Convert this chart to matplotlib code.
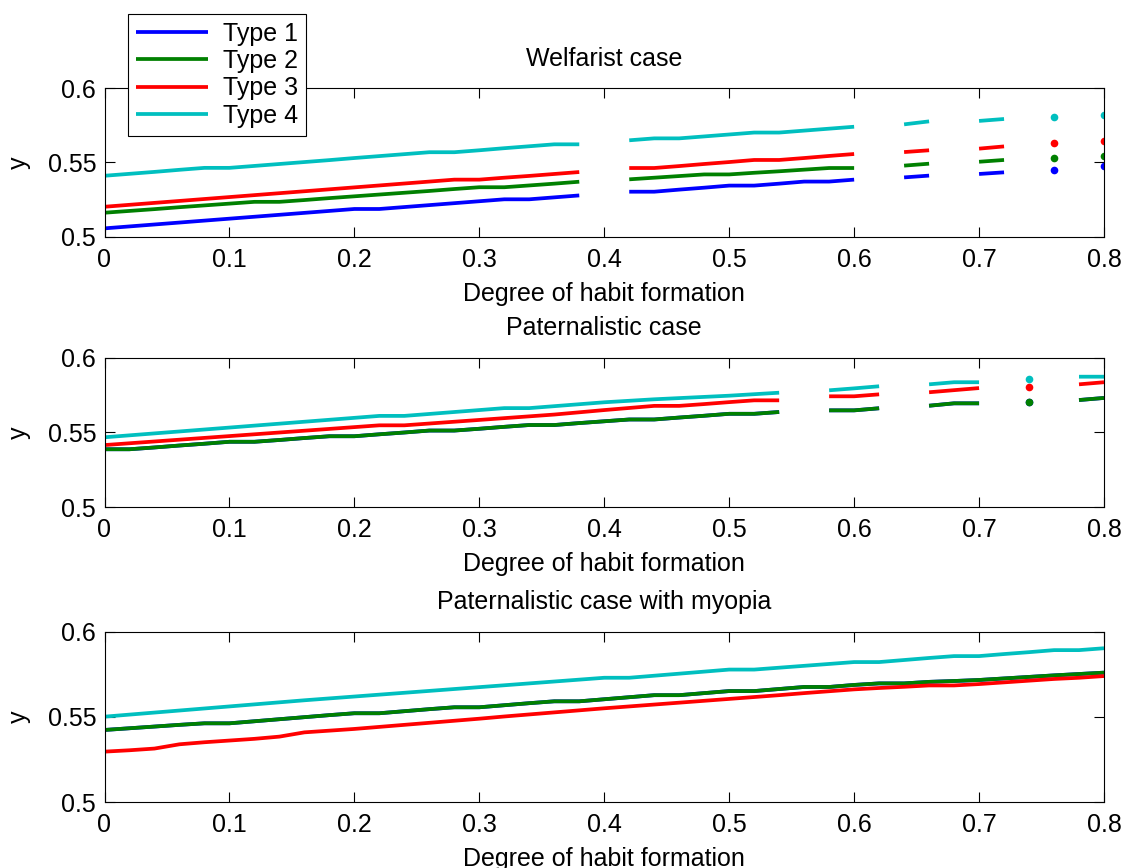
import numpy as np
import matplotlib
matplotlib.use("Agg")
import matplotlib.pyplot as plt

plt.rcParams['font.family'] = ['Liberation Sans', 'DejaVu Sans']
plt.rcParams['font.size'] = 18

nan = np.nan
habit = np.linspace(0, 0.8, 41)

# ---- welfarist case ----
welf_t1 = [0.5058, 0.5071, 0.5084, 0.5097, 0.5110, 0.5123, 0.5136, 0.5149, 0.5162, 0.5175,
           0.5188, 0.5188, 0.5201, 0.5214, 0.5227, 0.5240, 0.5253, 0.5253, 0.5266, 0.5279,
           nan, 0.5304, 0.5304, 0.5318, 0.5331, 0.5345, 0.5345, 0.5358, 0.5372, 0.5372,
           0.5385, nan, 0.5400, 0.5412, nan, 0.5423, 0.5434, nan, 0.5452, nan, 0.5477]
welf_t2 = [0.5163, 0.5175, 0.5187, 0.5200, 0.5212, 0.5224, 0.5236, 0.5236, 0.5248, 0.5261,
           0.5273, 0.5285, 0.5297, 0.5309, 0.5322, 0.5334, 0.5334, 0.5346, 0.5358, 0.5371,
           nan, 0.5387, 0.5398, 0.5409, 0.5420, 0.5420, 0.5431, 0.5441, 0.5452, 0.5463,
           0.5463, nan, 0.5479, 0.5492, nan, 0.5505, 0.5517, nan, 0.5530, nan, 0.5544]
welf_t3 = [0.5203, 0.5216, 0.5229, 0.5242, 0.5255, 0.5268, 0.5281, 0.5294, 0.5307, 0.5320,
           0.5333, 0.5346, 0.5359, 0.5372, 0.5385, 0.5385, 0.5398, 0.5410, 0.5423, 0.5436,
           nan, 0.5463, 0.5463, 0.5476, 0.5490, 0.5503, 0.5517, 0.5517, 0.5530, 0.5544,
           0.5557, nan, 0.5570, 0.5582, nan, 0.5593, 0.5608, nan, 0.5633, nan, 0.5647]
welf_t4 = [0.5411, 0.5424, 0.5437, 0.5451, 0.5464, 0.5464, 0.5477, 0.5490, 0.5503, 0.5516,
           0.5530, 0.5543, 0.5556, 0.5569, 0.5569, 0.5582, 0.5596, 0.5609, 0.5622, 0.5622,
           nan, 0.5649, 0.5662, 0.5662, 0.5675, 0.5688, 0.5701, 0.5701, 0.5714, 0.5727,
           0.5740, nan, 0.5756, 0.5776, nan, 0.5779, 0.5792, nan, 0.5805, nan, 0.5819]

# ---- paternalistic case (types 1 and 2 coincide) ----
pat_t2 = [0.5388, 0.5388, 0.5400, 0.5413, 0.5425, 0.5438, 0.5438, 0.5450, 0.5463, 0.5475,
          0.5475, 0.5488, 0.5500, 0.5513, 0.5513, 0.5525, 0.5538, 0.5550, 0.5550, 0.5563,
          0.5575, 0.5587, 0.5587, 0.5600, 0.5612, 0.5625, 0.5625, 0.5637, nan, 0.5648,
          0.5648, 0.5662, nan, 0.5679, 0.5695, 0.5695, nan, 0.5704, nan, 0.5717, 0.5731]
pat_t1 = list(pat_t2)
pat_t3 = [0.5416, 0.5428, 0.5440, 0.5452, 0.5464, 0.5476, 0.5488, 0.5500, 0.5512, 0.5524,
          0.5536, 0.5548, 0.5548, 0.5560, 0.5572, 0.5584, 0.5596, 0.5608, 0.5620, 0.5635,
          0.5650, 0.5664, 0.5678, 0.5678, 0.5690, 0.5703, 0.5715, 0.5715, nan, 0.5742,
          0.5742, 0.5755, nan, 0.5769, 0.5783, 0.5797, nan, 0.5806, nan, 0.5822, 0.5836]
pat_t4 = [0.5468, 0.5481, 0.5494, 0.5507, 0.5520, 0.5533, 0.5546, 0.5559, 0.5572, 0.5585,
          0.5598, 0.5611, 0.5611, 0.5624, 0.5637, 0.5650, 0.5663, 0.5663, 0.5676, 0.5689,
          0.5702, 0.5712, 0.5722, 0.5730, 0.5738, 0.5746, 0.5756, 0.5766, nan, 0.5782,
          0.5795, 0.5809, nan, 0.5822, 0.5836, 0.5836, nan, 0.5860, nan, 0.5873, 0.5873]

# ---- paternalistic case with myopia (types 1 and 2 coincide) ----
myo_t2 = [0.5424, 0.5434, 0.5444, 0.5454, 0.5463, 0.5463, 0.5475, 0.5487, 0.5499, 0.5511,
          0.5522, 0.5522, 0.5534, 0.5546, 0.5557, 0.5557, 0.5569, 0.5581, 0.5592, 0.5592,
          0.5604, 0.5616, 0.5628, 0.5628, 0.5640, 0.5652, 0.5652, 0.5664, 0.5676, 0.5676,
          0.5688, 0.5697, 0.5697, 0.5706, 0.5711, 0.5717, 0.5726, 0.5735, 0.5744, 0.5752, 0.5760]
myo_t1 = list(myo_t2)
myo_t3 = [0.5297, 0.5305, 0.5315, 0.5340, 0.5352, 0.5362, 0.5372, 0.5385, 0.5410, 0.5420,
          0.5430, 0.5442, 0.5454, 0.5466, 0.5478, 0.5490, 0.5503, 0.5515, 0.5527, 0.5539,
          0.5551, 0.5562, 0.5573, 0.5584, 0.5595, 0.5606, 0.5617, 0.5628, 0.5640, 0.5651,
          0.5662, 0.5670, 0.5677, 0.5685, 0.5685, 0.5693, 0.5703, 0.5713, 0.5723, 0.5730, 0.5740]
myo_t4 = [0.5502, 0.5514, 0.5526, 0.5538, 0.5550, 0.5562, 0.5574, 0.5586, 0.5598, 0.5609,
          0.5620, 0.5631, 0.5642, 0.5653, 0.5664, 0.5675, 0.5686, 0.5697, 0.5708, 0.5719,
          0.5730, 0.5730, 0.5742, 0.5754, 0.5766, 0.5778, 0.5778, 0.5789, 0.5800, 0.5811,
          0.5822, 0.5822, 0.5834, 0.5846, 0.5857, 0.5857, 0.5869, 0.5880, 0.5892, 0.5892, 0.5903]

type_names = ['Type 1', 'Type 2', 'Type 3', 'Type 4']
type_colors = ['#0000ff', '#008000', '#ff0000', '#00bfbf']
panel_titles = ['Welfarist case', 'Paternalistic case', 'Paternalistic case with myopia']
panel_series = [[welf_t1, welf_t2, welf_t3, welf_t4],
                [pat_t1, pat_t2, pat_t3, pat_t4],
                [myo_t1, myo_t2, myo_t3, myo_t4]]
x_ticks = [0, 0.1, 0.2, 0.3, 0.4, 0.5, 0.6, 0.7, 0.8]
x_ticklabels = ['0', '0.1', '0.2', '0.3', '0.4', '0.5', '0.6', '0.7', '0.8']
y_ticks = [0.5, 0.55, 0.6]
y_ticklabels = ['0.5', '0.55', '0.6']

W, H = 1123, 868
fig = plt.figure(figsize=(W / 100, H / 100), dpi=100)

# axes boxes in pixels: left, top, right, bottom
boxes = [(104.5, 88, 1104, 237), (104.5, 357.7, 1104, 507.3), (104.5, 631.7, 1104, 802.3)]

handles = []
for k, (l, t, r, b) in enumerate(boxes):
    ax = fig.add_axes([l / W, 1 - b / H, (r - l) / W, (b - t) / H])
    for i, ys in enumerate(panel_series[k]):
        ys = np.asarray(ys, dtype=float)
        ln, = ax.plot(habit, ys, color=type_colors[i], lw=2.7, solid_capstyle='butt')
        if k == 0:
            handles.append(ln)
        # points with no neighbours would be invisible as a line; mark them
        ok = ~np.isnan(ys)
        prev = np.r_[False, ok[:-1]]
        nxt = np.r_[ok[1:], False]
        lone = ok & ~prev & ~nxt
        if lone.any():
            ax.plot(habit[lone], ys[lone], 'o', color=type_colors[i], ms=5.5, mew=0)
    ax.set_xlim(0, 0.8)
    ax.set_ylim(0.5, 0.6)
    ax.set_xticks(x_ticks)
    ax.set_xticklabels(x_ticklabels)
    ax.set_yticks(y_ticks)
    ax.set_yticklabels(y_ticklabels)
    ax.tick_params(direction='in', length=7.5, width=0.8, top=True, right=True,
                   labelsize=18)
    ax.tick_params(axis='x', pad=8)
    ax.tick_params(axis='y', pad=6)
    for s in ax.spines.values():
        s.set_linewidth(0.8)
    ax.set_title(panel_titles[k], fontsize=18, pad=16)
    ax.set_xlabel('Degree of habit formation', fontsize=18, labelpad=7)
    ax.set_ylabel('y', fontsize=18, labelpad=12)

leg = fig.legend(handles, type_names, loc='upper left',
                 bbox_to_anchor=(128 / W, 1 - 14 / H), borderaxespad=0,
                 fontsize=18, fancybox=False, framealpha=1, edgecolor='black',
                 handlelength=2.9, handletextpad=0.6, labelspacing=0.14,
                 borderpad=0.3)
leg.get_frame().set_linewidth(0.8)

fig.savefig('out.png', dpi=100)
